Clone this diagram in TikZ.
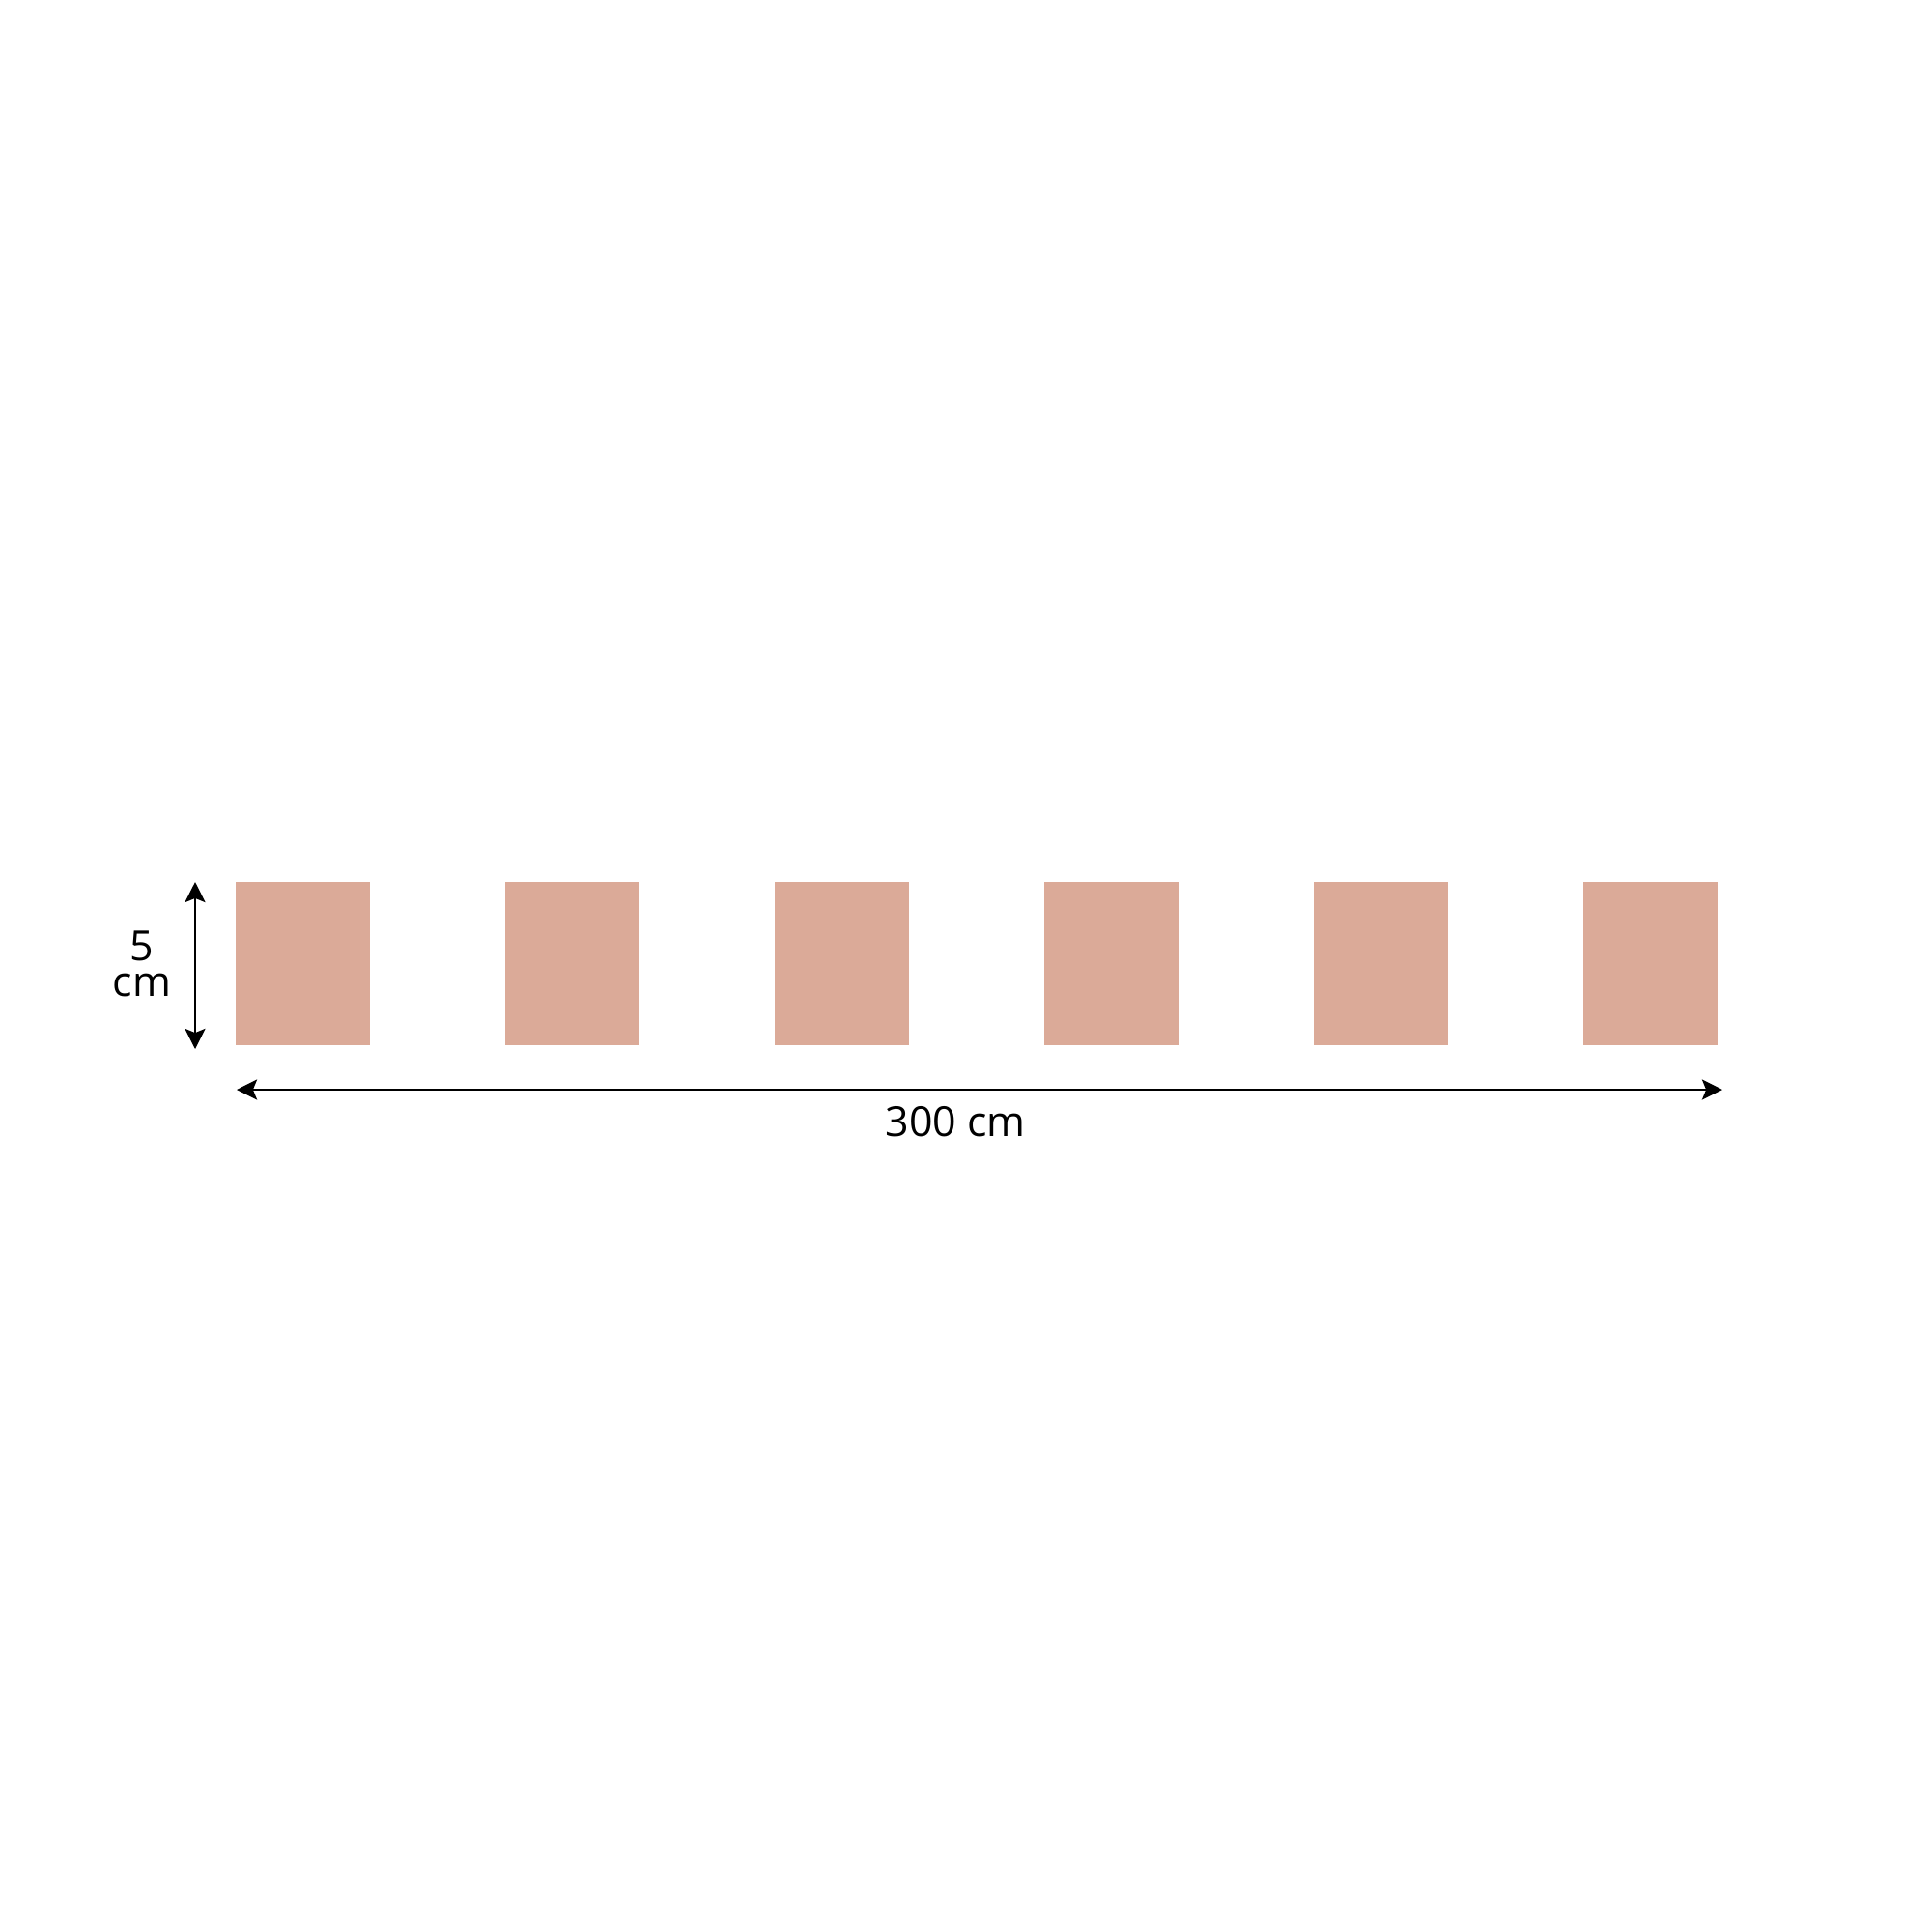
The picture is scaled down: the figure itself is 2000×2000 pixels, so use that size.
\documentclass[tikz,border=0pt]{standalone}
\usepackage{fontspec}
\setmainfont{Open Sans}
\usetikzlibrary{arrows.meta}
\definecolor{panelpink}{RGB}{219,170,152}
\tikzset{
  panel/.style={fill=panelpink, draw=none, minimum width=1.39cm, minimum height=1.69cm, inner sep=0pt},
  dimline/.style={line width=0.65pt, {Stealth[length=6pt,width=6pt,inset=1.2pt]}-{Stealth[length=6pt,width=6pt,inset=1.2pt]}},
  dimlabel/.style={font=\fontsize{12.2}{10.4}\selectfont, inner sep=0pt, align=center}
}
\begin{document}
\begin{tikzpicture}[x=0.01cm,y=-0.01cm]
      \useasboundingbox (0,0) rectangle (2000,2000);
      \draw
        (313.5,997.5) node[panel] (p1){}
        (592.5,997.5) node[panel] (p2){}
        (871.5,997.5) node[panel] (p3){}
        (1150.5,997.5) node[panel] (p4){}
        (1429.5,997.5) node[panel] (p5){}
        (1708.5,997.5) node[panel] (p6){};
      \coordinate (htop) at (202,913);
      \coordinate (hbot) at (202,1086);
      \coordinate (wleft) at (245,1128);
      \coordinate (wright) at (1783,1128);
      \node[dimlabel] (hlabel) at (147,998) {5\\cm};
      \node[dimlabel] (wlabel) at (989,1161) {300 cm};
      \begin{scope}[dimline]
        \draw (htop) to (hbot);
        \draw (wleft) to (wright);
      \end{scope}
    \end{tikzpicture}
\end{document}
